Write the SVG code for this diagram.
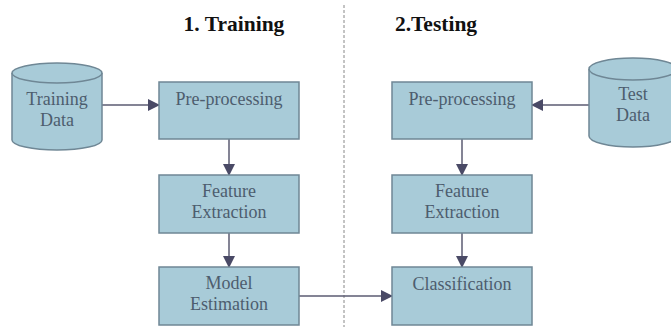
<svg xmlns="http://www.w3.org/2000/svg" width="671" height="327" viewBox="0 0 671 327">
<style>
.box{fill:#a8cbd8;stroke:#6f8795;stroke-width:1.5}
.cyl{fill:#a8cbd8;stroke:#6f8795;stroke-width:1.5}
.lbl{font-family:"Liberation Serif",serif;font-size:18px;fill:#4d5d6e;text-anchor:middle}
.ttl{font-family:"Liberation Serif",serif;font-size:21.5px;font-weight:bold;fill:#111;text-anchor:middle}
.con{stroke:#5b5b72;stroke-width:1.5;fill:none}
</style>
<defs>
<marker id="ah" markerWidth="12" markerHeight="12" viewBox="0 0 12 12" refX="11" refY="6" orient="auto" markerUnits="userSpaceOnUse">
<path d="M0,0 L12,6 L0,12 z" fill="#4a4a66"/>
</marker>
</defs>
<rect width="671" height="327" fill="#fff"/>
<line x1="344" y1="5" x2="344" y2="327" stroke="#888" stroke-width="1" stroke-dasharray="3,2"/>
<text class="ttl" x="234" y="31">1. Training</text>
<text class="ttl" x="436" y="31">2.Testing</text>
<g id="connectors">
<line class="con" x1="102" y1="105" x2="159" y2="105" marker-end="url(#ah)"/>
<line class="con" x1="229" y1="139" x2="229" y2="175" marker-end="url(#ah)"/>
<line class="con" x1="229" y1="233" x2="229" y2="267" marker-end="url(#ah)"/>
<line class="con" x1="299" y1="296" x2="392" y2="296" marker-end="url(#ah)"/>
<line class="con" x1="589" y1="105" x2="532" y2="105" marker-end="url(#ah)"/>
<line class="con" x1="462" y1="139" x2="462" y2="175" marker-end="url(#ah)"/>
<line class="con" x1="462" y1="233" x2="462" y2="267" marker-end="url(#ah)"/>
</g>
<g id="training-data">
<path class="cyl" d="M12,73 L12,140 A45,10 0 0 0 102,140 L102,73"/>
<ellipse class="cyl" cx="57" cy="73" rx="45" ry="10"/>
<text class="lbl" x="57" y="105">Training</text>
<text class="lbl" x="57" y="126">Data</text>
</g>
<g id="test-data">
<path class="cyl" d="M589,69 L589,136 A44,11 0 0 0 677,136 L677,69"/>
<ellipse class="cyl" cx="633" cy="69" rx="44" ry="11"/>
<text class="lbl" x="633" y="100">Test</text>
<text class="lbl" x="633" y="121">Data</text>
</g>
<g id="train-preprocessing">
<rect class="box" x="159" y="82" width="140" height="57"/>
<text class="lbl" x="229" y="105">Pre-processing</text>
</g>
<g id="train-feature">
<rect class="box" x="159" y="175" width="140" height="58"/>
<text class="lbl" x="229" y="197">Feature</text>
<text class="lbl" x="229" y="218">Extraction</text>
</g>
<g id="model-estimation">
<rect class="box" x="159" y="267" width="140" height="58"/>
<text class="lbl" x="229" y="289">Model</text>
<text class="lbl" x="229" y="310">Estimation</text>
</g>
<g id="test-preprocessing">
<rect class="box" x="392" y="82" width="140" height="57"/>
<text class="lbl" x="462" y="105">Pre-processing</text>
</g>
<g id="test-feature">
<rect class="box" x="392" y="175" width="140" height="58"/>
<text class="lbl" x="462" y="197">Feature</text>
<text class="lbl" x="462" y="218">Extraction</text>
</g>
<g id="classification">
<rect class="box" x="392" y="267" width="140" height="58"/>
<text class="lbl" x="462" y="290">Classification</text>
</g>
</svg>
